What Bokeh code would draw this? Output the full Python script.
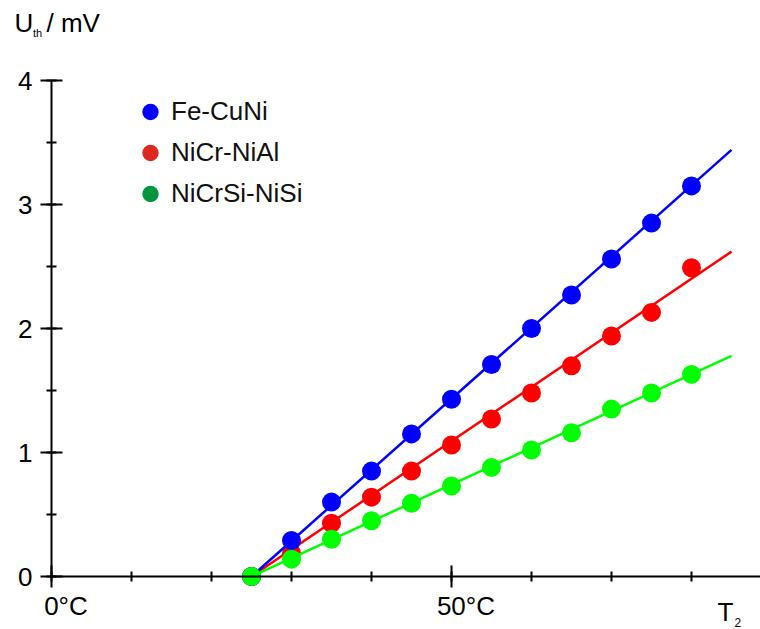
from bokeh.plotting import figure
from bokeh.models import Range1d, Label, Legend, LegendItem, FixedTicker
from bokeh.embed import file_html
from bokeh.resources import INLINE

# ---------------- data ----------------
temps = [25, 30, 35, 40, 45, 50, 55, 60, 65, 70, 75, 80]          # °C
fe_cuni = [0.0, 0.29, 0.60, 0.85, 1.15, 1.43, 1.71, 2.00, 2.27, 2.56, 2.85, 3.15]
nicr_nial = [0.0, 0.19, 0.43, 0.64, 0.85, 1.06, 1.27, 1.48, 1.70, 1.94, 2.13, 2.49]
nicrsi_nisi = [0.0, 0.14, 0.30, 0.45, 0.59, 0.73, 0.88, 1.02, 1.16, 1.35, 1.48, 1.63]

fit_t = [25, 85]
fit_fe = [0.0, 3.44]
fit_nicr = [0.0, 2.62]
fit_nisi = [0.0, 1.78]

series_names = ["Fe-CuNi", "NiCr-NiAl", "NiCrSi-NiSi"]
x_tick_vals = [0, 50]
x_tick_text = ["0°C", "50°C"]
y_tick_vals = [0, 1, 2, 3, 4]

# ---------------- styles ----------------
FONT = "Liberation Sans"
W, H = 760, 629
OX, OY = 51, 576          # canvas pixel of the data origin
SX, SY = 8.0, 124.0       # pixels per unit

x0, x1 = -OX / SX, (W - OX) / SX
y0, y1 = -(H - OY) / SY, OY / SY

p = figure(width=W, height=H, output_backend="svg", toolbar_location=None,
           x_range=Range1d(x0, x1), y_range=Range1d(y0, y1),
           min_border=0, min_border_left=0, min_border_right=0,
           min_border_top=0, min_border_bottom=0, outline_line_color=None,
           background_fill_color="white", border_fill_color="white")
p.grid.visible = False

for ax in (p.xaxis[0], p.yaxis[0]):
    ax.fixed_location = 0
    ax.axis_line_width = 2
    ax.axis_line_color = "black"
    ax.major_tick_line_width = 2
    ax.minor_tick_line_width = 2
    ax.major_tick_line_color = "black"
    ax.minor_tick_line_color = "black"
    ax.major_tick_in = 11
    ax.major_tick_out = 11
    ax.minor_tick_in = 5
    ax.minor_tick_out = 5
    ax.major_label_text_font = FONT
    ax.major_label_text_font_size = "26px"
    ax.major_label_text_color = "black"

PAD = "\u00a0" * 4   # keeps the numeral centred under its tick
p.xaxis[0].bounds = (0, x1)
p.xaxis[0].ticker = FixedTicker(ticks=x_tick_vals,
                                minor_ticks=list(range(0, 90, 10)))
p.xaxis[0].major_label_overrides = {v: PAD + t for v, t in zip(x_tick_vals, x_tick_text)}
p.xaxis[0].major_label_standoff = 3

p.yaxis[0].bounds = (0, 4)
p.yaxis[0].ticker = FixedTicker(ticks=y_tick_vals,
                                minor_ticks=[v / 2 for v in range(0, 9)])
p.yaxis[0].major_label_standoff = 8

plot_colors = ["#0000ff", "#ff0000", "#00ff00"]
legend_colors = ["#0000ff", "#dc281e", "#009640"]
fits = [fit_fe, fit_nicr, fit_nisi]
vals = [fe_cuni, nicr_nial, nicrsi_nisi]
for i in [1, 0, 2]:
    p.line(fit_t, fits[i], line_color=plot_colors[i], line_width=2.5)
    p.scatter(temps, vals[i], marker="circle", size=19,
              fill_color=plot_colors[i], line_color=None)

nan = float("nan")
items = []
for name, col in zip(series_names, legend_colors):
    r = p.scatter(x=[nan], y=[nan], marker="circle", size=19, fill_color=col,
                  line_color=None)
    items.append(LegendItem(label=name, renderers=[r]))
leg = Legend(items=items, location=(129, 415), glyph_width=42, glyph_height=41,
             spacing=0, padding=0, margin=0, label_standoff=0,
             border_line_color=None, background_fill_alpha=0,
             label_text_font=FONT, label_text_font_size="26px",
             label_text_color="#111111")
p.add_layout(leg)

def lab(px, py, txt, size):
    shift = 0.385 * size
    p.add_layout(Label(x=(px - OX) / SX, y=(OY - py + shift) / SY,
                       text=txt, text_font=FONT,
                       text_font_size=f"{size}px", text_color="black",
                       text_align="left", text_baseline="alphabetic"))

lab(14, 32.5, "U", 26)
lab(32.5, 37, "th", 11)
lab(46, 32.5, "/ mV", 26)
lab(717, 622, "T", 26)
lab(734, 627, "2", 12)

open("out.html", "w").write(file_html(p, INLINE))
